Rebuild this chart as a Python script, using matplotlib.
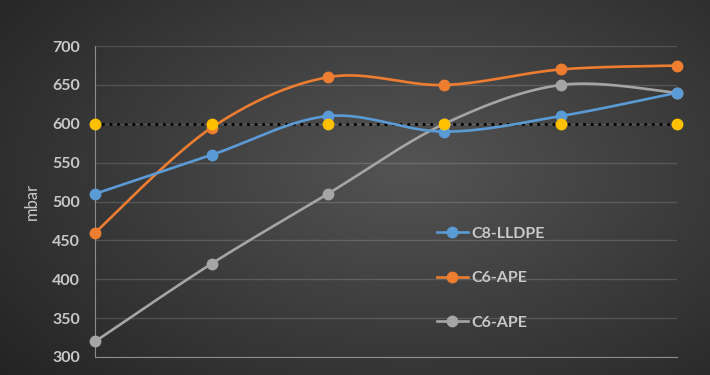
import numpy as np
import matplotlib.pyplot as plt
from matplotlib.lines import Line2D

# dados
pontos = [0, 1, 2, 3, 4, 5]
c8_lldpe = [510, 560, 610, 590, 610, 640]
c6_ape = [460, 595, 660, 650, 670, 675]
c6_ape_cinza = [320, 420, 510, 600, 650, 640]
limite = [600, 600, 600, 600, 600, 600]
rotulos = ["C8-LLDPE", "C6-APE", "C6-APE"]
yticks = [300, 350, 400, 450, 500, 550, 600, 650, 700]

AZUL = "#5B9BD5"
LARANJA = "#ED7D31"
CINZA = "#A5A5A5"
AMARELO = "#FFC000"
TEXTO = "#C8C8C8"

plt.rcParams["font.family"] = ["Lato", "DejaVu Sans"]


def suavizar(x, y, n=40):
    # curva suave tipo Excel (bezier com tangentes de catmull-rom)
    x = np.asarray(x, float)
    y = np.asarray(y, float)
    px = np.concatenate([[x[0]], x, [x[-1]]])
    py = np.concatenate([[y[0]], y, [y[-1]]])
    xs, ys = [], []
    t = np.linspace(0, 1, n)
    for i in range(1, len(px) - 2):
        p0 = np.array([px[i], py[i]])
        p3 = np.array([px[i + 1], py[i + 1]])
        p1 = p0 + (np.array([px[i + 1], py[i + 1]]) - np.array([px[i - 1], py[i - 1]])) / 6
        p2 = p3 - (np.array([px[i + 2], py[i + 2]]) - np.array([px[i], py[i]])) / 6
        b = ((1 - t) ** 3)[:, None] * p0 + (3 * (1 - t) ** 2 * t)[:, None] * p1 \
            + (3 * (1 - t) * t ** 2)[:, None] * p2 + (t ** 3)[:, None] * p3
        xs.extend(b[:, 0])
        ys.extend(b[:, 1])
    return xs, ys


fig = plt.figure(figsize=(7.1, 3.75), dpi=100)

# fundo com gradiente radial
fundo = fig.add_axes([0, 0, 1, 1])
gx, gy = np.meshgrid(np.linspace(0, 1, 355), np.linspace(0, 1, 188))
r = np.sqrt(((gx - 0.58) / 0.75) ** 2 + ((gy - 0.45) / 0.85) ** 2)
val = 0.33 - 0.19 * np.clip(r, 0, 1)
fundo.imshow(np.dstack([val, val, val]), extent=[0, 1, 0, 1], aspect="auto", origin="upper")
fundo.axis("off")

ax = fig.add_axes([0.134, 0.048, 0.8195, 0.829])
ax.set_facecolor("none")

ax.plot(pontos, limite, color="black", linewidth=2.2, linestyle=(0, (0.1, 2.4)),
        dash_capstyle="round", zorder=2)

for serie, cor, z in [(c8_lldpe, AZUL, 4), (c6_ape, LARANJA, 3), (c6_ape_cinza, CINZA, 3.5)]:
    sx, sy = suavizar(pontos, serie)
    ax.plot(sx, sy, color=cor, linewidth=1.9, zorder=z, solid_capstyle="round")
    ax.plot(pontos, serie, "o", color=cor, markersize=7.5, zorder=z + 2, clip_on=False)

ax.plot(pontos, limite, "o", color=AMARELO, markersize=7.5, zorder=7, clip_on=False)

ax.set_xlim(0, 5)
ax.set_ylim(300, 700)
ax.set_yticks(yticks)
ax.set_xticks([])
ax.tick_params(axis="y", length=0, pad=11, labelcolor=TEXTO, labelsize=11.5)
for lbl in ax.get_yticklabels():
    lbl.set_fontweight("bold")
ax.grid(axis="y", color="white", alpha=0.15, linewidth=1)
for lado in ["top", "right"]:
    ax.spines[lado].set_visible(False)
ax.spines["left"].set_color("#8C8C8C")
ax.spines["bottom"].set_color("#8C8C8C")
ax.set_ylabel("mbar", color=TEXTO, fontsize=12, labelpad=9)

handles = [Line2D([], [], color=c, linewidth=1.9, marker="o", markersize=7.5)
           for c in [AZUL, LARANJA, CINZA]]
leg = ax.legend(handles, rotulos, loc="upper left", bbox_to_anchor=(0.587, 0.42),
                frameon=False, handlelength=1.95, handletextpad=0.22, borderpad=0,
                borderaxespad=0, labelspacing=1.9, fontsize=11.5)
for t in leg.get_texts():
    t.set_color(TEXTO)
    t.set_fontweight("bold")

fig.savefig("out.png", dpi=100)
